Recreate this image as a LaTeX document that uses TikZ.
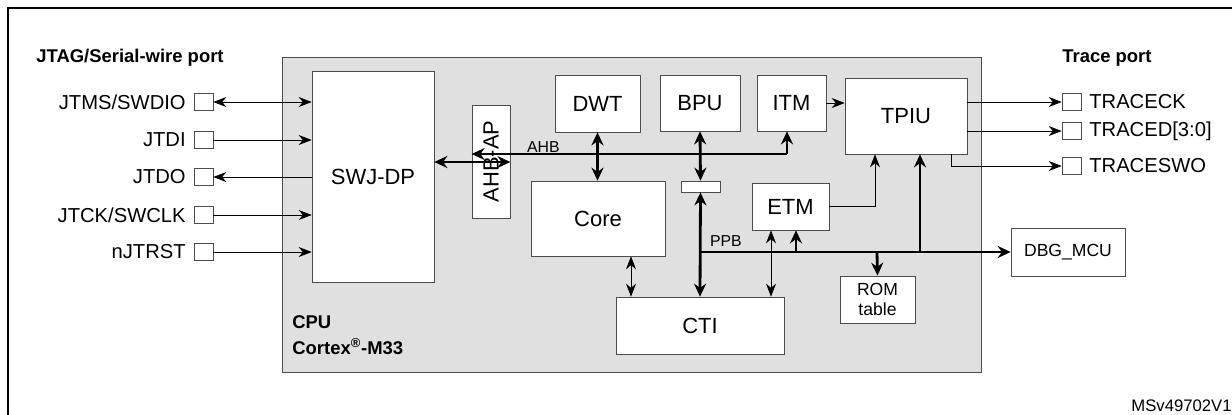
\documentclass[tikz,border=0pt]{standalone}
\usepackage{fontspec}
\setmainfont{Liberation Sans}
\usetikzlibrary{arrows.meta}

\begin{document}
\begin{tikzpicture}[x=0.02cm, y=-0.02cm]
    \tikzstyle{box} = [rectangle, draw=black!70, fill=white, inner sep=0pt, text centered, font=\fontsize{12.5}{14}\selectfont]
    \tikzstyle{pin} = [rectangle, draw=black!70, fill=white, minimum width=0.38cm, minimum height=0.34cm, inner sep=0pt]
    \tikzstyle{arrow} = [thin, -{Stealth[length=2.6mm, width=2mm]}]
    \tikzstyle{darrow} = [thin, {Stealth[length=2.6mm, width=2mm]}-{Stealth[length=2.6mm, width=2mm]}]
    \tikzstyle{bus} = [line width=1.6pt, -{Stealth[length=2.6mm, width=2.4mm]}]
    \tikzstyle{dbus} = [line width=1.6pt, {Stealth[length=2.6mm, width=2.4mm]}-{Stealth[length=2.6mm, width=2.4mm]}]
    \tikzstyle{head} = [font=\fontsize{10.5}{13}\selectfont\bfseries, anchor=west, inner sep=0pt]

    \useasboundingbox (0,0) rectangle (1232,414);
    \draw [line width=1.2pt] (8,420) -- (8,8) -- (1240,8);

    % CPU area
    \node (cpu) [rectangle, draw=black!70, fill=black!12, minimum width=13.98cm, minimum height=6.3cm, anchor=north west] at (282,57) {};
    \node [head, anchor=north west, align=left] at (292,315) {CPU\\[2pt]Cortex\textsuperscript{\textregistered}-M33};

    % blocks
    \node (swj) [box, minimum width=2.44cm, minimum height=4.22cm] at (373,176.5) {SWJ-DP};
    \node (ahbap) [box, rotate=90, minimum width=2.26cm, minimum height=0.76cm] at (491,161.5) {AHB-AP};
    \node (dwt) [box, minimum width=1.7cm, minimum height=1.14cm] at (597.5,103.5) {DWT};
    \node (bpu) [box, minimum width=1.6cm, minimum height=1.12cm] at (700,103) {BPU};
    \node (itm) [box, minimum width=1.38cm, minimum height=1.12cm] at (791.5,103) {ITM};
    \node (tpiu) [box, minimum width=2.44cm, minimum height=1.52cm] at (906,116) {TPIU};
    \node (core) [box, minimum width=2.68cm, minimum height=1.5cm] at (598,218.5) {Core};
    \node (bar) [box, minimum width=0.78cm, minimum height=0.22cm] at (700.5,186.5) {};
    \node (etm) [box, minimum width=1.54cm, minimum height=0.94cm] at (790.5,206.5) {ETM};
    \node (cti) [box, minimum width=3.36cm, minimum height=1.14cm] at (700,325.5) {CTI};
    \node (rom) [box, minimum width=1.5cm, minimum height=0.94cm, align=center, font=\fontsize{10}{11}\selectfont] at (877.5,299.5) {ROM\\table};
    \node (dbg) [box, minimum width=2.28cm, minimum height=0.96cm, font=\fontsize{10}{11}\selectfont] at (1068,252) {DBG\_MCU};

    % ports
    \node [head] at (36,58) {JTAG/Serial-wire port};
    \node [head] at (1062,58) {Trace port};
    \foreach \nm/\txt/\yy in {tms/JTMS\slash SWDIO/102, tdi/JTDI/140, tdo/JTDO/177, tck/JTCK\slash SWCLK/215, rst/nJTRST/252}
        \node (\nm) [pin, label={[font=\fontsize{11.5}{13}\selectfont, xshift=-1pt]left:\txt}] at (203.5,\yy) {};
    \foreach \nm/\txt/\yy in {tck2/TRACECK/102, tdat/TRACED[3:0]/131, swo/TRACESWO/166}
        \node (\nm) [pin, label={[font=\fontsize{11.5}{13}\selectfont, xshift=1pt]right:\txt}] at (1071.5,\yy) {};

    \node [font=\fontsize{9}{10}\selectfont, anchor=south west, inner sep=1pt] at (525,155) {AHB};
    \node [font=\fontsize{9}{10}\selectfont, anchor=south west, inner sep=1pt] at (708,249) {PPB};
    \node [font=\fontsize{9.5}{10}\selectfont, anchor=east, inner sep=0pt] at (1232,406) {MSv49702V1};

    % bus points
    \coordinate (ahbR) at (787,154);
    \coordinate (ppbL) at (700,252);
    \coordinate (ppbE) at (796,252);
    \coordinate (ppbR) at (877,252);
    \coordinate (ppbT) at (920,252);

    % ----- ----- ----- ----- ----- ----- ----- ----- -----

    \draw [darrow] (tms.east) -- (tms.east -| swj.west);
    \draw [arrow] (tdi.east) -- (tdi.east -| swj.west);
    \draw [arrow] (tdo.east -| swj.west) -- (tdo.east);
    \draw [arrow] (tck.east) -- (tck.east -| swj.west);
    \draw [arrow] (rst.east) -- (rst.east -| swj.west);
    \draw [dbus] (swj.east |- 0,162) -- (ahbap.south |- 0,162);
    \draw [bus] (ahbR) -- (ahbap.north |- ahbR);
    \draw [bus] (ahbR) -- (itm.south -| ahbR);
    \draw [dbus] (dwt.south) -- (core.north -| dwt.south);
    \draw [dbus] (bpu.south) -- (bar.north);
    \draw [dbus] (bar.south) -- (cti.north);
    \draw [bus] (ppbL) -- (dbg.west);
    \draw [bus] (ppbE) -- (etm.south -| ppbE);
    \draw [bus] (ppbR) -- (rom.north);
    \draw [bus] (ppbT) -- (tpiu.south -| ppbT);
    \draw [darrow] (etm.south -| 771,0) -- (cti.north -| 771,0);
    \draw [darrow] (core.south -| 631,0) -- (cti.north -| 631,0);
    \draw [arrow] (itm.east) -- (tpiu.west |- itm.east);
    \draw [arrow] (etm.east) -| (tpiu.south -| 875,0);
    \draw [arrow] (tpiu.east |- tck2) -- (tck2.west);
    \draw [arrow] (tpiu.east |- tdat) -- (tdat.west);
    \draw [arrow] (tpiu.south -| 951,0) |- (swo.west);
\end{tikzpicture}
\end{document}
